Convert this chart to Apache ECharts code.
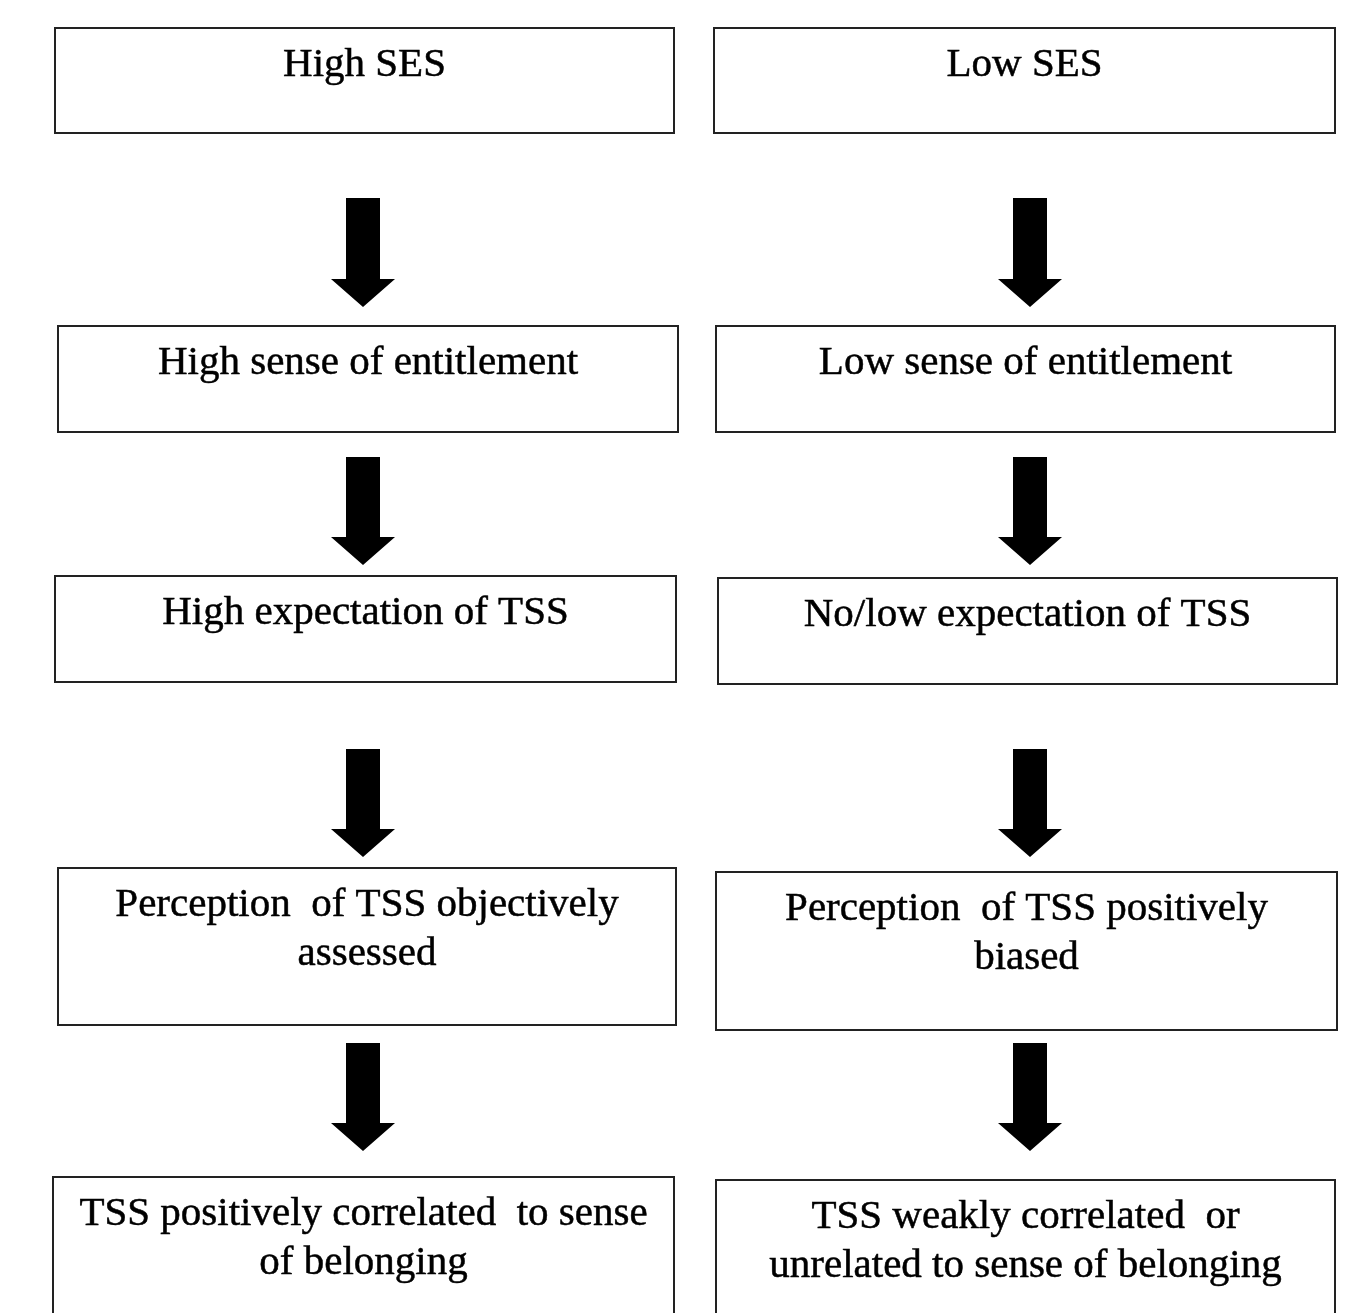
<!DOCTYPE html>
<html>
<head>
<meta charset="utf-8">
<script src="https://cdn.jsdelivr.net/npm/echarts@6/dist/echarts.min.js"></script>
<style>
html,body{margin:0;padding:0;background:#fff;}
#main{width:1351px;height:1313px;}
</style>
</head>
<body>
<div id="main"></div>
<script>
// box labels, left column then right column
var boxLabels = [
    'High SES',
    'High sense of entitlement',
    'High expectation of TSS',
    'Perception  of TSS objectively\nassessed',
    'TSS positively correlated  to sense\nof belonging',
    'Low SES',
    'Low sense of entitlement',
    'No/low expectation of TSS',
    'Perception  of TSS positively\nbiased',
    'TSS weakly correlated  or\nunrelated to sense of belonging'
];
// box edges [x1, y1, x2, y2]
var boxLeft   = [55, 58, 55, 58, 53, 714, 716, 718, 716, 716];
var boxTop    = [28, 326, 576, 868, 1177, 28, 326, 578, 872, 1180];
var boxRight  = [674, 678, 676, 676, 674, 1335, 1335, 1337, 1337, 1335];
var boxBottom = [133, 432, 682, 1025, 1330, 133, 432, 684, 1030, 1330];

// arrows: centre x, top of shaft, tip
var arrowX   = [363, 363, 363, 363, 1030, 1030, 1030, 1030];
var arrowTop = [198, 457, 749, 1043, 198, 457, 749, 1043];
var arrowTip = [307, 565, 857, 1151, 307, 565, 857, 1151];

var boxData = [];
for (var i = 0; i < boxLabels.length; i++) {
    boxData.push([boxLeft[i], boxTop[i], boxRight[i], boxBottom[i], boxLabels[i]]);
}
var arrowData = [];
for (var i = 0; i < arrowX.length; i++) {
    arrowData.push([arrowX[i], arrowTop[i], arrowTip[i]]);
}

var myChart = echarts.init(document.getElementById('main'));
var option = {
    backgroundColor: '#fff',
    animation: false,
    grid: {left: 0, right: 0, top: 0, bottom: 0},
    xAxis: {type: 'value', min: 0, max: 1351, show: false},
    yAxis: {type: 'value', min: 0, max: 1313, inverse: true, show: false},
    series: [
        {
            type: 'custom',
            clip: false,
            data: boxData,
            renderItem: function (params, api) {
                var p1 = api.coord([api.value(0), api.value(1)]);
                var p2 = api.coord([api.value(2), api.value(3)]);
                var label = boxData[params.dataIndex][4];
                return {
                    type: 'group',
                    children: [
                        {
                            type: 'rect',
                            shape: {x: p1[0], y: p1[1], width: p2[0] - p1[0], height: p2[1] - p1[1]},
                            style: {fill: '#fff', stroke: '#222', lineWidth: 2}
                        },
                        {
                            type: 'text',
                            x: (p1[0] + p2[0]) / 2,
                            y: p1[1] + 13,
                            style: {
                                text: label,
                                fill: '#000',
                                stroke: '#000',
                                lineWidth: 0.5,
                                font: '41px "Liberation Serif", "Times New Roman", serif',
                                align: 'center',
                                verticalAlign: 'top',
                                lineHeight: 49
                            }
                        }
                    ]
                };
            }
        },
        {
            type: 'custom',
            clip: false,
            data: arrowData,
            renderItem: function (params, api) {
                var top = api.coord([api.value(0), api.value(1)]);
                var tip = api.coord([api.value(0), api.value(2)]);
                var cx = top[0];
                var headH = 28, shaftW = 17, headW = 32;
                var neck = tip[1] - headH;
                return {
                    type: 'polygon',
                    shape: {
                        points: [
                            [cx - shaftW, top[1]], [cx + shaftW, top[1]],
                            [cx + shaftW, neck], [cx + headW, neck],
                            [cx, tip[1]],
                            [cx - headW, neck], [cx - shaftW, neck]
                        ]
                    },
                    style: {fill: '#000'}
                };
            }
        }
    ]
};
myChart.setOption(option);
</script>
</body>
</html>
